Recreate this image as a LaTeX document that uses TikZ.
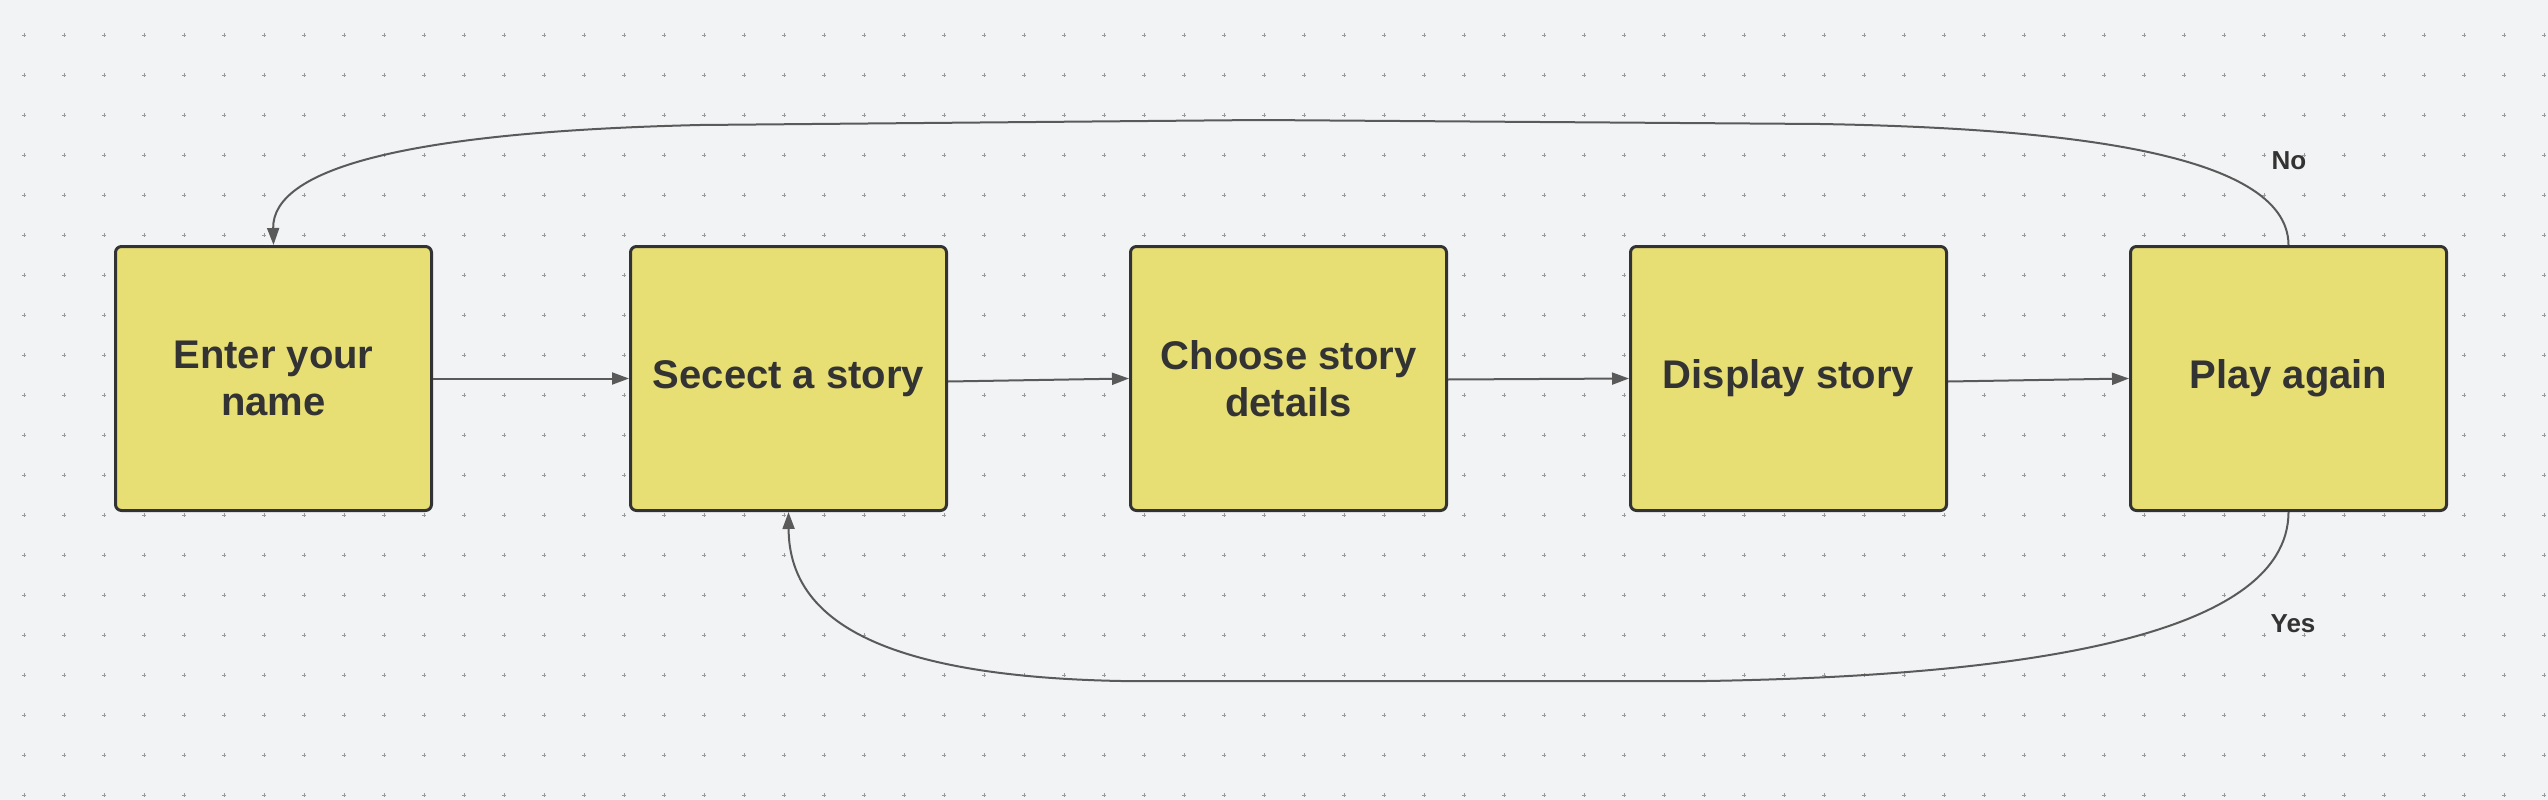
\documentclass[tikz,border=0pt]{standalone}
\usepackage{fontspec}
\setmainfont{Liberation Sans}
\usetikzlibrary{arrows.meta}
\definecolor{bgc}{HTML}{F2F3F5}
\definecolor{boxfill}{HTML}{E8DF74}
\definecolor{boxdraw}{HTML}{333333}
\definecolor{linec}{HTML}{5A5A5A}
\definecolor{dotc}{HTML}{9A9A9A}
\definecolor{txt}{HTML}{333333}
\tikzset{
  stepbox/.style={draw=boxdraw, fill=boxfill, line width=3pt, rounded corners=6pt,
    minimum width=316pt, minimum height=264pt, align=center, text=txt,
    font=\fontsize{40}{47}\selectfont\bfseries, inner sep=0pt},
  conn/.style={draw=linec, line width=2pt, -{Triangle[length=17pt,width=12pt]}},
  lbl/.style={text=txt, font=\fontsize{26}{30}\selectfont\bfseries, inner sep=0pt},
}
\begin{document}
\begin{tikzpicture}[x=1pt,y=-1pt]
\fill[bgc] (0,0) rectangle (2548,800);
\useasboundingbox (0,0) rectangle (2548,800);
\foreach \gx in {24,64,...,2544}{
  \foreach \gy in {35,75,...,795}{
    \draw[dotc, line width=0.8pt] (\gx-2,\gy) -- (\gx+2,\gy) (\gx,\gy-2) -- (\gx,\gy+2);
  }
}
\node[stepbox] (b1) at (273.5,378.5) {Enter your\\name};
\node[stepbox] (b2) at (788.5,378.5) {Secect a story};
\node[stepbox] (b3) at (1288.5,378.5) {Choose story\\details};
\node[stepbox] (b4) at (1788.5,378.5) {Display story};
\node[stepbox] (b5) at (2288.5,378.5) {Play again};
\draw[conn] (b1.east) -- (b2.west);
\draw[conn] ([yshift=-3pt]b2.east) -- (b3.west);
\draw[conn] ([yshift=-1pt]b3.east) -- (b4.west);
\draw[conn] ([yshift=-3pt]b4.east) -- (b5.west);
\coordinate (t1) at (1820,124);
\coordinate (t2) at (1260,120);
\coordinate (t3) at (700,125);
\draw[conn] (b5.north) .. controls (2288,150) and (2050,128) .. (t1) -- (t2) -- (t3) .. controls (400,132) and (272,170) .. (b1.north);
\coordinate (u1) at (1706,681);
\coordinate (u2) at (1121,681);
\draw[conn] (b5.south) .. controls (2288,640) and (2010,676) .. (u1) -- (u2) .. controls (860,676) and (789,610) .. (b2.south);
\node[lbl] (no) at (2289,161) {No};
\node[lbl] (yes) at (2293,624) {Yes};
\end{tikzpicture}
\end{document}
